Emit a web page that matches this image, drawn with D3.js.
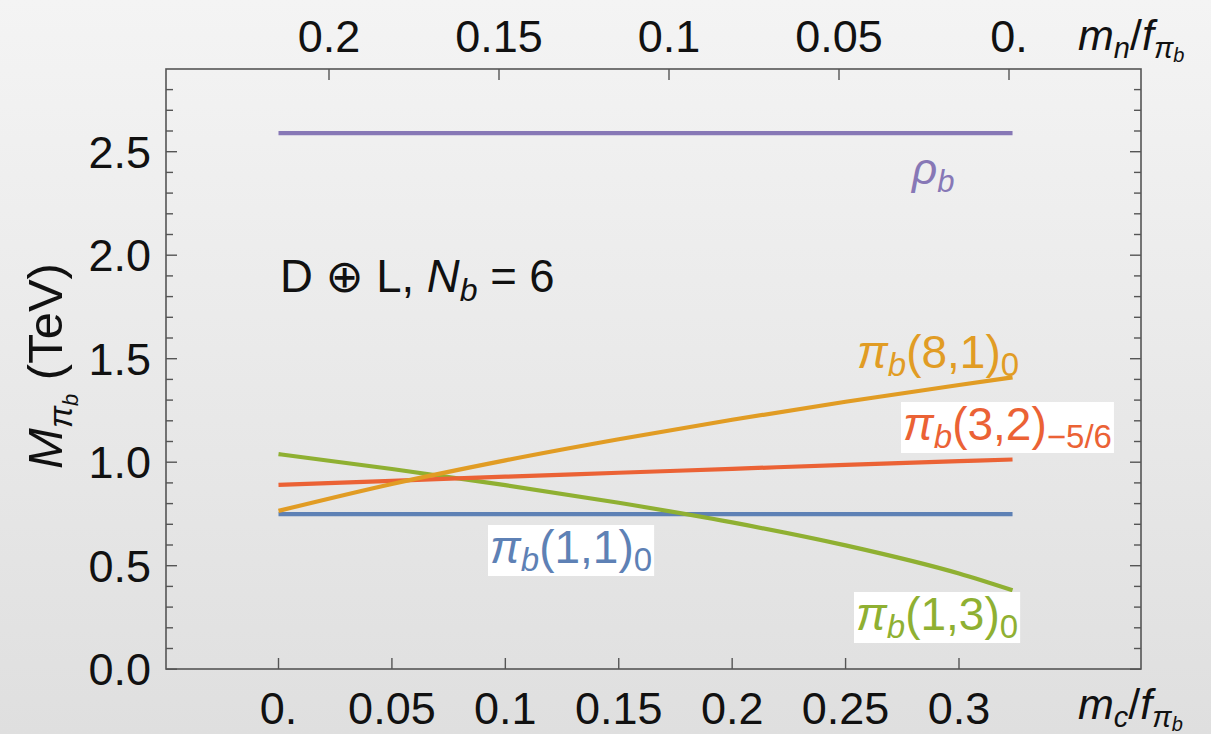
<!DOCTYPE html>
<html>
<head>
<meta charset="utf-8">
<script src="https://cdn.jsdelivr.net/npm/d3@7"></script>
<style>
  html, body { margin: 0; padding: 0; }
  body { width: 1211px; height: 734px; overflow: hidden; }
  text { font-family: "Liberation Sans", Arial, "DejaVu Sans", sans-serif; }
</style>
</head>
<body>
<svg id="chart" width="1211" height="734"></svg>
<script>
// ---------- data ----------
const mcValues   = [0, 0.05, 0.1, 0.15, 0.2, 0.25, 0.3, 0.3236];
const massRho    = [2.59, 2.59, 2.59, 2.59, 2.59, 2.59, 2.59, 2.59];
const mass11     = [0.749, 0.749, 0.749, 0.749, 0.749, 0.749, 0.749, 0.749];
const mass81     = [0.765, 0.895, 1.009, 1.111, 1.205, 1.292, 1.373, 1.410];
const mass32     = [0.890, 0.910, 0.930, 0.949, 0.968, 0.987, 1.005, 1.013];
const mass13     = [1.039, 0.967, 0.889, 0.804, 0.709, 0.598, 0.462, 0.381];

const bottomTicks  = [0, 0.05, 0.1, 0.15, 0.2, 0.25, 0.3];
const bottomLabels = ["0.", "0.05", "0.1", "0.15", "0.2", "0.25", "0.3"];
const topTicks     = [0.2, 0.15, 0.1, 0.05, 0];
const topLabels    = ["0.2", "0.15", "0.1", "0.05", "0."];
const yMajorTicks  = [0, 0.5, 1.0, 1.5, 2.0, 2.5];
const yMajorLabels = ["0.0", "0.5", "1.0", "1.5", "2.0", "2.5"];
const yMinorTicks  = [0.1,0.2,0.3,0.4,0.6,0.7,0.8,0.9,1.1,1.2,1.3,1.4,1.6,1.7,1.8,1.9,2.1,2.2,2.3,2.4,2.6,2.7,2.8];

const colors = {
  rho: "#8778B6", p11: "#5E81B5", p81: "#E19C24", p32: "#EB6235", p13: "#8FB032"
};

// ---------- layout ----------
const W = 1211, H = 734;
const frame = { left: 166, right: 1141, top: 69, bottom: 669 };

const svg = d3.select("#chart");
const defs = svg.append("defs");
const grad = defs.append("linearGradient").attr("id", "bg").attr("x1", 0).attr("y1", 0).attr("x2", 0).attr("y2", 1);
grad.append("stop").attr("offset", "0%").attr("stop-color", "#f4f4f4");
grad.append("stop").attr("offset", "100%").attr("stop-color", "#dfdfdf");
svg.append("rect").attr("width", W).attr("height", H).attr("fill", "url(#bg)");

const xB = d3.scaleLinear().domain([0, 0.3]).range([278.5, 959]);
const xT = d3.scaleLinear().domain([0.2, 0]).range([329, 1009]);
const y  = d3.scaleLinear().domain([0, 2.5]).range([669.2, 151.7]);

const frameColor = "#555";
const fs = 45;

// frame
svg.append("rect")
  .attr("x", frame.left).attr("y", frame.top)
  .attr("width", frame.right - frame.left).attr("height", frame.bottom - frame.top)
  .attr("fill", "none").attr("stroke", frameColor).attr("stroke-width", 1.6);

const tickG = svg.append("g").attr("stroke", frameColor).attr("stroke-width", 1.4);
yMajorTicks.forEach(v => {
  tickG.append("line").attr("x1", frame.left).attr("x2", frame.left + 11).attr("y1", y(v)).attr("y2", y(v));
  tickG.append("line").attr("x1", frame.right).attr("x2", frame.right - 11).attr("y1", y(v)).attr("y2", y(v));
});
yMinorTicks.forEach(v => {
  tickG.append("line").attr("x1", frame.left).attr("x2", frame.left + 7).attr("y1", y(v)).attr("y2", y(v));
  tickG.append("line").attr("x1", frame.right).attr("x2", frame.right - 7).attr("y1", y(v)).attr("y2", y(v));
});
bottomTicks.forEach(v => {
  tickG.append("line").attr("x1", xB(v)).attr("x2", xB(v)).attr("y1", frame.bottom).attr("y2", frame.bottom - 11);
});
topTicks.forEach(v => {
  tickG.append("line").attr("x1", xT(v)).attr("x2", xT(v)).attr("y1", frame.top).attr("y2", frame.top + 11);
});

// tick labels
const lab = svg.append("g").attr("fill", "#111").attr("font-size", fs);
yMajorTicks.forEach((v, i) => {
  lab.append("text").attr("x", 151).attr("y", y(v)).attr("dy", "0.36em")
    .attr("text-anchor", "end").text(yMajorLabels[i]);
});
bottomTicks.forEach((v, i) => {
  lab.append("text").attr("x", xB(v)).attr("y", 724).attr("text-anchor", "middle").text(bottomLabels[i]);
});
topTicks.forEach((v, i) => {
  lab.append("text").attr("x", xT(v)).attr("y", 52).attr("text-anchor", "middle").text(topLabels[i]);
});

// axis titles
function fracLabel(g, x, yb, sub) {
  const t = g.append("text").attr("x", x).attr("y", yb).attr("font-size", 43).attr("fill", "#111");
  t.append("tspan").attr("font-style", "italic").text("m");
  t.append("tspan").attr("font-size", 29).attr("font-style", "italic").attr("dy", 8).text(sub);
  t.append("tspan").attr("dy", -8).text("/");
  t.append("tspan").attr("font-style", "italic").text("f");
  t.append("tspan").attr("font-size", 29).attr("font-style", "italic").attr("dy", 8).text("π");
  t.append("tspan").attr("font-size", 20).attr("font-style", "italic").attr("dy", 4).text("b");
  return t;
}
fracLabel(svg, 1078, 50, "n");
fracLabel(svg, 1078, 719, "c");

const yTitle = svg.append("text")
  .attr("transform", "translate(62,366) rotate(-90)")
  .attr("text-anchor", "middle").attr("font-size", 49).attr("fill", "#111");
yTitle.append("tspan").attr("font-style", "italic").text("M");
yTitle.append("tspan").attr("font-size", 33).attr("font-style", "italic").attr("dy", 10).text("π");
yTitle.append("tspan").attr("font-size", 22).attr("font-style", "italic").attr("dy", 6).text("b");
yTitle.append("tspan").attr("dy", -16).text("\u00A0(TeV)");

// annotation
const ann = svg.append("text").attr("x", 280).attr("y", 292).attr("font-size", 45.5).attr("fill", "#111");
ann.append("tspan").text("D ⊕ L, ");
ann.append("tspan").attr("font-style", "italic").text("N");
ann.append("tspan").attr("font-style", "italic").attr("font-size", 32).attr("dy", 9).text("b");
ann.append("tspan").attr("dy", -9).text(" = 6");

// lines
const line = d3.line().x(d => xB(d[0])).y(d => y(d[1])).curve(d3.curveMonotoneX);
const series = [
  { key: "rho", vals: massRho },
  { key: "p11", vals: mass11 },
  { key: "p13", vals: mass13 },
  { key: "p32", vals: mass32 },
  { key: "p81", vals: mass81 }
];
const lineG = svg.append("g");
series.forEach(s => {
  lineG.append("path")
    .attr("d", line(mcValues.map((m, i) => [m, s.vals[i]])))
    .attr("fill", "none").attr("stroke", colors[s.key]).attr("stroke-width", 4.2);
});

// curve labels
function pionLabel(x, yb, color, rep, sub, boxed) {
  const g = svg.append("g");
  const t = g.append("text").attr("x", x).attr("y", yb).attr("font-size", 46).attr("fill", color);
  t.append("tspan").attr("font-style", "italic").text("π");
  t.append("tspan").attr("font-style", "italic").attr("font-size", 33).attr("dy", 8).text("b");
  t.append("tspan").attr("dy", -8).text(rep);
  t.append("tspan").attr("font-size", 33).attr("dy", 8).text(sub);
  if (boxed) {
    const bb = t.node().getBBox();
    g.insert("rect", "text").attr("x", bb.x - 2).attr("y", bb.y + 4)
      .attr("width", bb.width + 4).attr("height", bb.height - 6).attr("fill", "#fff");
  }
}
pionLabel(857, 368, colors.p81, "(8,1)", "0", false);
pionLabel(903, 440, colors.p32, "(3,2)", "\u22125/6", true);
pionLabel(490, 563, colors.p11, "(1,1)", "0", true);
pionLabel(856, 630, colors.p13, "(1,3)", "0", true);

const rl = svg.append("text").attr("x", 912).attr("y", 184).attr("font-size", 44).attr("fill", colors.rho);
rl.append("tspan").attr("font-style", "italic").text("ρ");
rl.append("tspan").attr("font-style", "italic").attr("font-size", 31).attr("dy", 8).text("b");
</script>
</body>
</html>
